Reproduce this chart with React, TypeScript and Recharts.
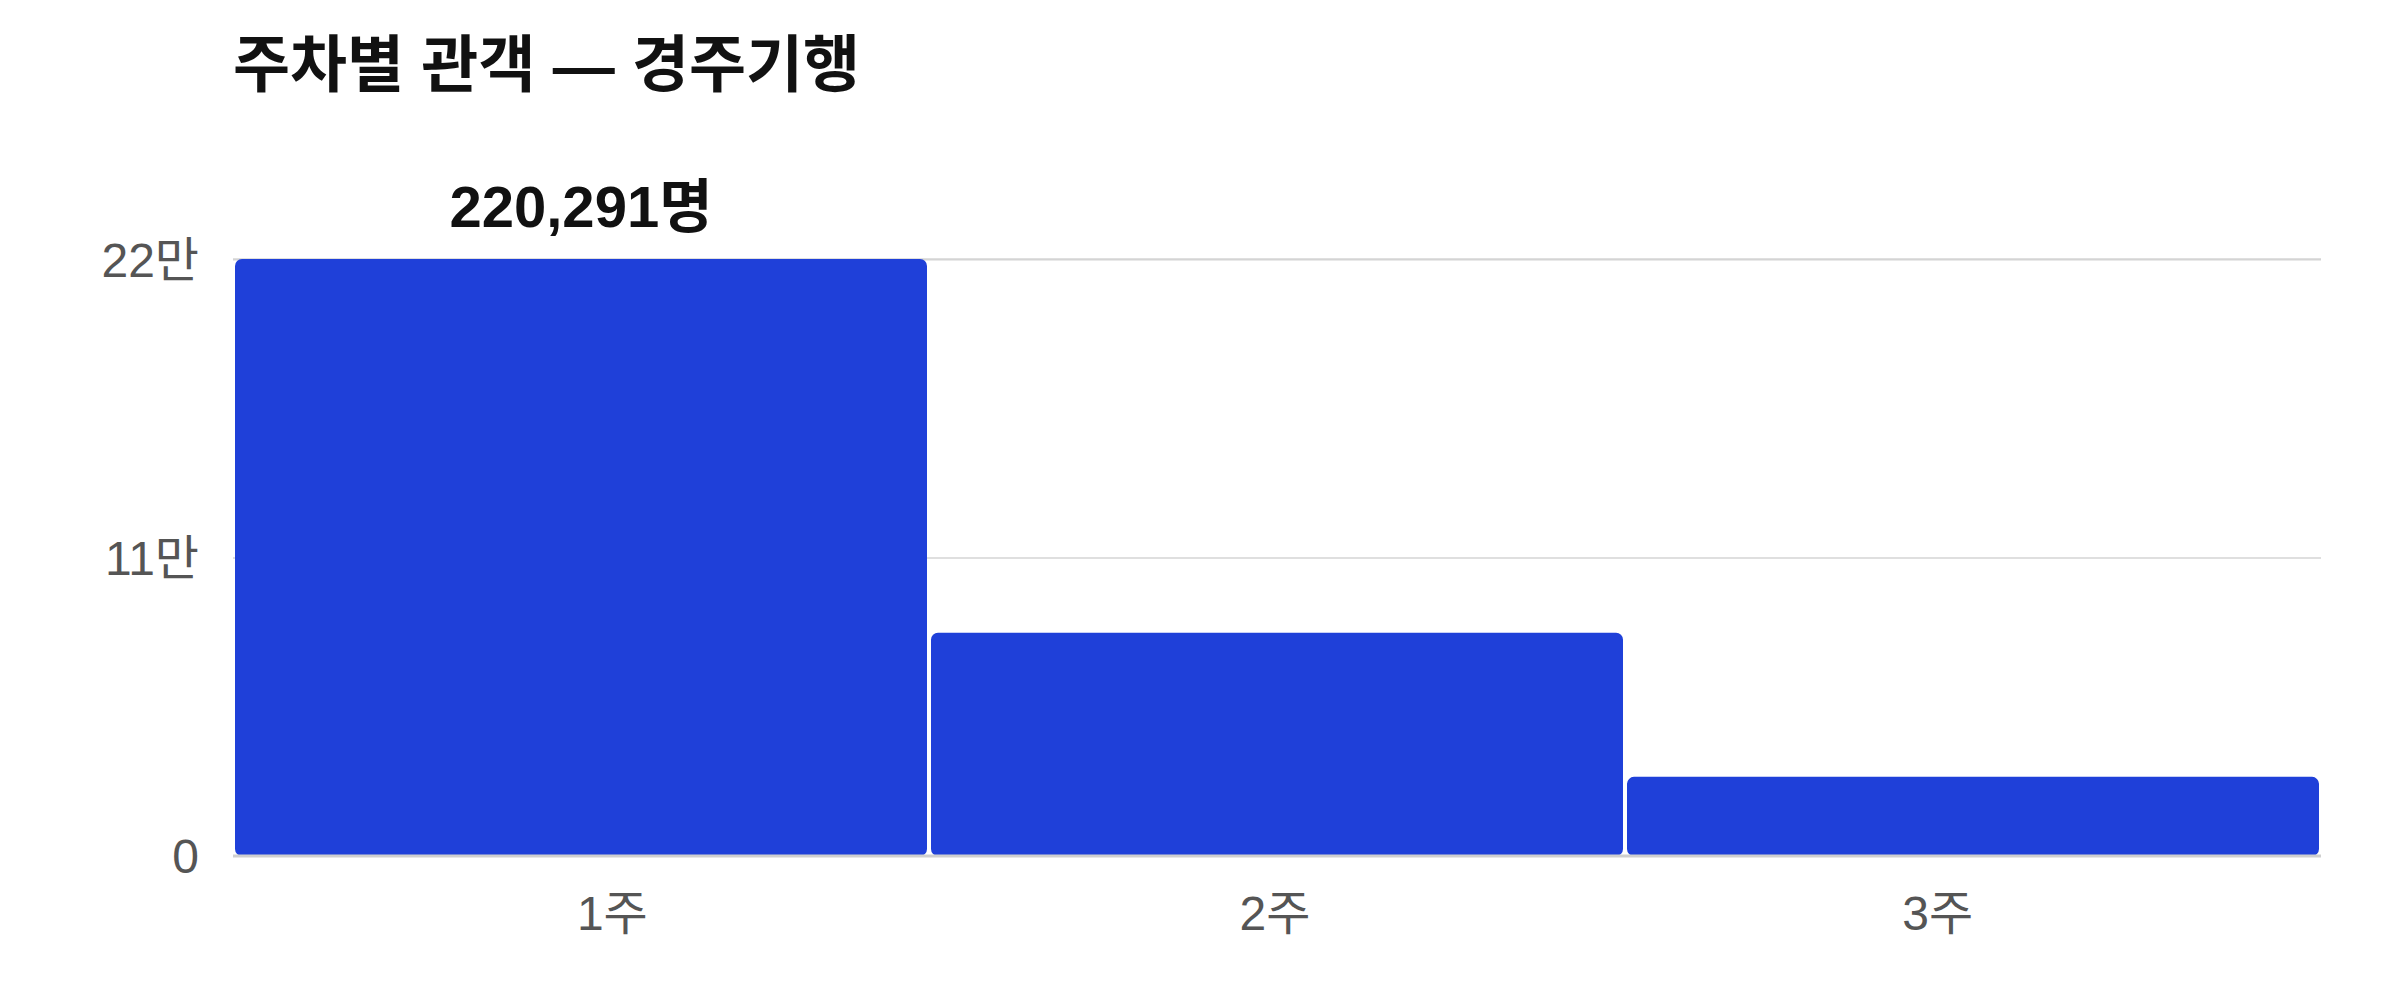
import { BarChart, Bar, XAxis, YAxis, CartesianGrid, LabelList } from 'recharts';

const weeks = ['1주', '2주', '3주'];
const audience = [220291, 82400, 29200];
const yTicks = [0, 110000, 220000];

const data = weeks.map((week, i) => ({ week, audience: audience[i] }));
const peak = Math.max(...audience);

const FONT = "'Liberation Sans', 'Noto Sans CJK KR', sans-serif";
const BLUE = '#1f40d9';

const formatMan = (v: number) => (v === 0 ? '0' : `${v / 10000}만`);

export default function App() {
  return (
    <div style={{ position: 'absolute', left: 0, top: 0, width: 2400, height: 1000, background: '#fff', fontFamily: FONT }}>
      <div
        style={{
          position: 'absolute',
          left: 233,
          top: 35,
          fontSize: 62,
          lineHeight: '62px',
          fontWeight: 700,
          color: '#111',
          whiteSpace: 'nowrap',
        }}
      >
        주차별 관객 — 경주기행
      </div>
      <BarChart
        width={2400}
        height={1000}
        data={data}
        margin={{ top: 259, right: 79, bottom: 44, left: 0 }}
        barCategoryGap={2}
        style={{ position: 'absolute', left: 0, top: 0 }}
      >
        <CartesianGrid vertical={false} xAxisId="bars" stroke="#d4d4d4" strokeWidth={1.5} />
        {/* bars fill the whole band; the tick labels sit on a padded axis */}
        <XAxis xAxisId="bars" dataKey="week" hide height={0} />
        <XAxis
          xAxisId="labels"
          dataKey="week"
          height={100}
          padding={{ left: 48, right: 52 }}
          tickLine={false}
          tickSize={0}
          tickMargin={40}
          axisLine={{ stroke: '#cfcfcf', strokeWidth: 3 }}
          tick={{ fill: '#555', fontSize: 48, fontFamily: FONT }}
        />
        <YAxis
          width={233}
          domain={[0, 'dataMax']}
          ticks={yTicks}
          tickFormatter={formatMan}
          axisLine={false}
          tickLine={false}
          tickSize={0}
          tickMargin={34}
          tick={{ fill: '#555', fontSize: 48, fontFamily: FONT }}
        />
        <Bar xAxisId="bars" dataKey="audience" fill={BLUE} radius={[7, 7, 7, 7]} isAnimationActive={false}>
          <LabelList
            dataKey="audience"
            position="top"
            offset={32}
            formatter={(v: number) => (v === peak ? `${v.toLocaleString('en-US')}명` : '')}
            style={{ fill: '#111', fontSize: 58, fontWeight: 700, fontFamily: FONT }}
          />
        </Bar>
      </BarChart>
    </div>
  );
}
